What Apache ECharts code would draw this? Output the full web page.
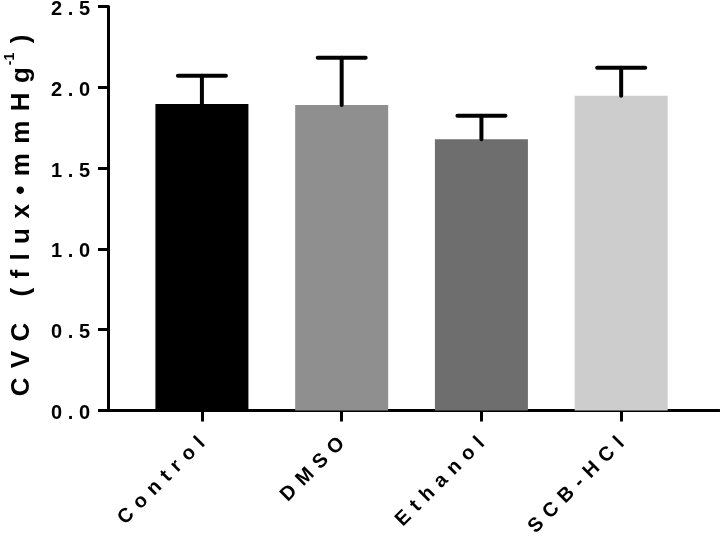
<!DOCTYPE html>
<html><head><meta charset="utf-8">
<script src="https://cdn.jsdelivr.net/npm/echarts@6/dist/echarts.min.js"></script>
<style>html,body{margin:0;padding:0;background:#fff}#c{width:720px;height:539px}</style>
</head><body><div id="c"></div>
<script>
const categories = ['Control', 'DMSO', 'Ethanol', 'SCB-HCl'];
const means = [1.897, 1.890, 1.678, 1.948];
const errors = [0.175, 0.293, 0.146, 0.173];
const barColors = ['#000000', '#8f8f8f', '#6e6e6e', '#cdcdcd'];
const yTicks = [0, 0.5, 1.0, 1.5, 2.0, 2.5];
const yTitle = 'CVC (flux\u2022mmHg';
const yTitleSup = '-1';

const FONT = 'Liberation Sans';
const spaced = (s, gap) => s.split('').join(gap);
const capHalf = 24;

const chart = echarts.init(document.getElementById('c'), null, {renderer: 'canvas'});
const catIdx = categories.map((c, i) => i);
const bold = {color: '#000', fontFamily: FONT, fontWeight: 'bold'};

chart.setOption({
  animation: false,
  backgroundColor: '#ffffff',
  grid: {left: 108, right: 1, top: 6.5, bottom: 128.5, containLabel: false, outerBoundsMode: 'none'},
  xAxis: {
    type: 'value', min: -0.672, max: 3.70,
    splitLine: {show: false},
    axisLine: {show: true, onZero: false, lineStyle: {color: '#000', width: 3}},
    axisTick: {show: true, customValues: catIdx, length: 11, inside: false, lineStyle: {color: '#000', width: 3}},
    axisLabel: Object.assign({
      customValues: catIdx, rotate: 45, margin: 30, fontSize: 20,
      formatter: v => spaced(categories[Math.round(v)] || '', ' \u200A')
    }, bold)
  },
  yAxis: {
    type: 'value', min: 0, max: 2.5, interval: 0.5,
    splitLine: {show: false},
    axisLine: {show: true, onZero: false, lineStyle: {color: '#000', width: 3}},
    axisTick: {show: true, length: 10, lineStyle: {color: '#000', width: 3}},
    axisLabel: Object.assign({
      margin: 18, fontSize: 20,
      formatter: v => '{v|' + spaced(Number(v).toFixed(1), ' ') + '}',
      rich: {v: Object.assign({fontSize: 20, padding: [6, 0, 0, 0]}, bold)}
    }, bold),
    name: '{t|' + spaced(yTitle, ' \u200A') + '}{s|' + yTitleSup + '}{e| \u200A)}',
    nameLocation: 'middle', nameGap: 73,
    nameTextStyle: Object.assign({
      fontSize: 26,
      rich: {
        t: Object.assign({fontSize: 26, lineHeight: 34, verticalAlign: 'bottom'}, bold),
        e: Object.assign({fontSize: 26, lineHeight: 34, verticalAlign: 'bottom', padding: [0, 14, 0, 0]}, bold),
        s: Object.assign({fontSize: 14, lineHeight: 34, verticalAlign: 'top', padding: [2, 0, 0, 2]}, bold)
      }
    }, bold)
  },
  series: [
    {
      type: 'bar', barWidth: 93, z: 2,
      data: means.map((m, i) => ({value: [i, m], itemStyle: {color: barColors[i]}}))
    },
    {
      type: 'custom', z: 3,
      data: means.map((m, i) => [i, m, m + errors[i]]),
      renderItem: (params, api) => {
        const p0 = api.coord([api.value(0), api.value(1)]);
        const p1 = api.coord([api.value(0), api.value(2)]);
        const st = {stroke: '#000', lineWidth: 4, lineCap: 'round'};
        return {type: 'group', children: [
          {type: 'line', shape: {x1: p0[0], y1: p0[1], x2: p1[0], y2: p1[1]}, style: st},
          {type: 'line', shape: {x1: p1[0] - capHalf, y1: p1[1], x2: p1[0] + capHalf, y2: p1[1]}, style: st}
        ]};
      }
    }
  ]
});
</script>
</body></html>
